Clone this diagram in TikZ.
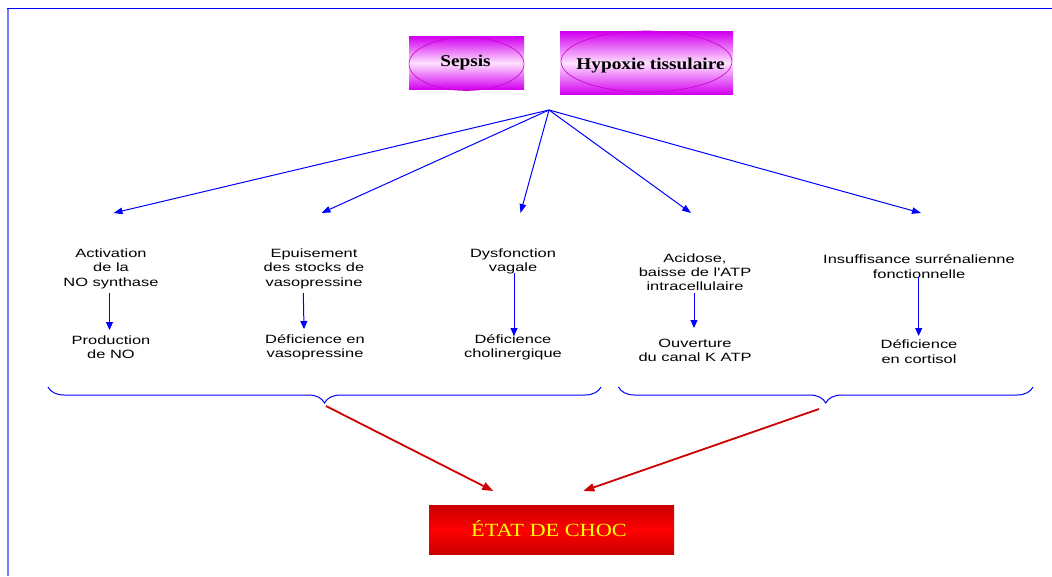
\documentclass[tikz,border=0pt]{standalone}
\usepackage{fontspec}
\setmainfont{Liberation Serif}
\newfontfamily\labfont[FakeStretch=1.37]{Liberation Sans}
\newfontfamily\titfont[FakeStretch=1.17]{Liberation Serif}
\newfontfamily\chocfont[FakeStretch=1.2]{Liberation Serif}
\usetikzlibrary{arrows.meta,decorations.pathreplacing,calc}
\definecolor{mag}{RGB}{210,0,240}
\definecolor{magl}{RGB}{255,225,255}
\definecolor{ellc}{RGB}{200,0,200}
\definecolor{dred}{RGB}{200,0,0}
\definecolor{bred}{RGB}{255,0,0}
\definecolor{arrred}{RGB}{204,0,0}
\definecolor{ylw}{RGB}{255,255,0}
\definecolor{bl}{RGB}{0,0,255}
\definecolor{lbl}{RGB}{120,120,255}
\tikzset{
  lab/.style={font=\labfont\fontsize{12}{14.3}\selectfont, align=center, inner sep=0pt},
  tit/.style={font=\titfont\bfseries\fontsize{16.5}{18}\selectfont, inner sep=0pt},
  magbox/.style={draw=none, rectangle, inner sep=0pt, top color=mag, bottom color=mag, middle color=magl},
  ell/.style={draw=ellc, line width=0.6pt},
  chocbox/.style={draw=none, rectangle, inner sep=0pt, top color=dred, bottom color=dred, middle color=bred},
  choctext/.style={font=\chocfont\fontsize{18.6}{20}\selectfont, text=ylw, inner sep=0pt},
  fanarr/.style={draw=bl, line width=1pt, -{Triangle[length=9pt,width=6.5pt]}},
  varr/.style={draw=bl, line width=1pt, -{Triangle[length=8pt,width=7pt]}},
  redarr/.style={draw=arrred, line width=1.8pt, -{Triangle[length=11pt,width=8pt]}},
  bracel/.style={draw=bl, line width=1pt, decorate, decoration={brace, mirror, amplitude=16pt}},
}
\begin{document}
\begin{tikzpicture}[x=1pt,y=-1pt]
\useasboundingbox (0,0) rectangle (1052,576);
% frame
\draw[lbl, line width=1.6pt] (7.8,576) -- (7.8,8.3);
\draw[bl, line width=1.2pt] (7.2,8.3) -- (1052,8.3);

% top boxes
\node[magbox, minimum width=115, minimum height=52.6] (sepsisbox) at (466.5,63) {};
\draw[ell] (466.5,64) ellipse [x radius=57.5, y radius=26.5];
\node[tit, anchor=base] (sepsis) at (465.5,66.7) {Sepsis};

\node[magbox, minimum width=173, minimum height=62.6] (hypbox) at (646.5,63) {};
\draw[ell] (646.5,61.5) ellipse [x radius=85.5, y radius=30.5];
\node[tit, anchor=base] (hyp) at (650.5,69.3) {Hypoxie tissulaire};

% fan
\coordinate (hub) at (549,110);
\coordinate (f1) at (113.5,213);
\coordinate (f2) at (321.5,213);
\coordinate (f3) at (520.5,213);
\coordinate (f4) at (691,213);
\coordinate (f5) at (921,213);
\foreach \i in {1,...,5} \draw[fanarr] (hub) -- (f\i);

% texts
\node[lab] (t1) at (111,268.7) {Activation\\de la\\NO synthase};
\node[lab] (b1) at (111,347.3) {Production\\de NO};
\node[lab] (t2) at (314,268.7) {Epuisement\\des stocks de\\vasopressine};
\node[lab] (b2) at (315,347.3) {Déficience en\\vasopressine};
\node[lab] (t3) at (513,261.5) {Dysfonction\\vagale};
\node[lab] (b3) at (513,347) {Déficience\\cholinergique};
\node[lab] (t4) at (695,272.4) {Acidose,\\baisse de l'ATP\\intracellulaire};
\node[lab] (b4) at (695,350.3) {Ouverture\\du canal K ATP};
\node[lab] (t5) at (919,266.7) {Insuffisance surrénalienne\\fonctionnelle};
\node[lab] (b5) at (919,351.5) {Déficience\\en cortisol};

% vertical arrows
\coordinate (v1a) at (109.5,293); \coordinate (v1b) at (109.5,330);
\coordinate (v2a) at (303.3,293); \coordinate (v2b) at (304,329);
\coordinate (v3a) at (514,273);   \coordinate (v3b) at (514,336);
\coordinate (v4a) at (694,293);   \coordinate (v4b) at (694,328);
\coordinate (v5a) at (918.7,276.7); \coordinate (v5b) at (918.7,336);
\foreach \i in {1,...,5} \draw[varr] (v\i a) -- (v\i b);

% braces
\coordinate (bLa) at (48,387); \coordinate (bLb) at (601,387);
\coordinate (bRa) at (618.5,387); \coordinate (bRb) at (1033,387);
\draw[bracel] (bLa) -- (bLb);
\draw[bracel] (bRa) -- (bRb);

% red arrows
\node[chocbox, minimum width=245, minimum height=49.7] (chocbox) at (551.5,530) {};
\node[choctext, anchor=base] (choc) at (549,536.7) {ÉTAT DE CHOC};
\coordinate (tipL) at (326,406);
\coordinate (tipR) at (819,409);
\coordinate (endL) at (493.3,491);
\coordinate (endR) at (583.3,491);
\draw[redarr] (tipL) -- (endL);
\draw[redarr] (tipR) -- (endR);
\end{tikzpicture}
\end{document}
